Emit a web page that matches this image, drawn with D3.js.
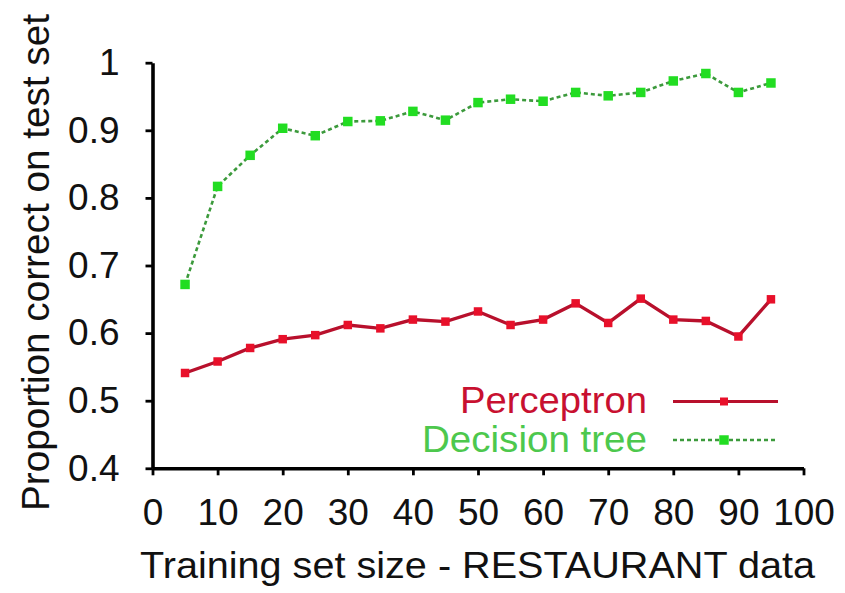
<!DOCTYPE html>
<html>
<head>
<meta charset="utf-8">
<script src="https://cdn.jsdelivr.net/npm/d3@7"></script>
<style>
  html, body { margin: 0; padding: 0; background: #fff; }
  svg { display: block; font-family: "Liberation Sans", Arial, sans-serif; }
</style>
</head>
<body>
<svg id="chart" width="845" height="593"></svg>
<script>
// ---- data ----
const trainingSizes = [5, 10, 15, 20, 25, 30, 35, 40, 45, 50, 55, 60, 65, 70, 75, 80, 85, 90, 95];
const perceptron = [0.541, 0.558, 0.578, 0.591, 0.597, 0.612, 0.607, 0.620, 0.617, 0.632,
                    0.612, 0.620, 0.644, 0.615, 0.651, 0.620, 0.618, 0.595, 0.650];
const decisionTree = [0.672, 0.817, 0.863, 0.903, 0.892, 0.913, 0.914, 0.928, 0.915, 0.941,
                      0.946, 0.943, 0.956, 0.951, 0.956, 0.973, 0.984, 0.956, 0.970];
const xTicks = [0, 10, 20, 30, 40, 50, 60, 70, 80, 90, 100];
const yTicks = [0.4, 0.5, 0.6, 0.7, 0.8, 0.9, 1];
const seriesNames = ["Perceptron", "Decision tree"];
const xTitle = "Training set size - RESTAURANT data";
const yTitle = "Proportion correct on test set";

// ---- layout ----
const svg = d3.select("#chart");
const plotLeft = 152.5, plotRight = 803.5, plotTop = 62.7, plotBottom = 468.3;

const x = d3.scaleLinear().domain([0, 100]).range([plotLeft, plotRight]);
const y = d3.scaleLinear().domain([0.4, 1]).range([plotBottom, plotTop]);

// axes
const yAxis = d3.axisLeft(y).tickValues(yTicks)
  .tickFormat(d => d === 1 ? "1" : d3.format(".1f")(d))
  .tickSize(7).tickSizeOuter(0).tickPadding(26);
const xAxis = d3.axisBottom(x).tickValues(xTicks).tickFormat(d3.format("d"))
  .tickSize(7).tickSizeOuter(0).tickPadding(23);

const gy = svg.append("g").attr("transform", `translate(${plotLeft},0)`).call(yAxis);
const gx = svg.append("g").attr("transform", `translate(0,${plotBottom})`).call(xAxis);
[gx, gy].forEach(g => {
  g.select(".domain").attr("stroke", "#000").attr("stroke-width", 3.6);
  g.selectAll(".tick line").attr("stroke", "#000").attr("stroke-width", 2.8);
  g.selectAll(".tick text").attr("fill", "#111").style("font-size", "37px")
    .style("font-family", "'Liberation Sans', Arial, sans-serif");
});

// titles
svg.append("text")
  .attr("x", 140).attr("y", 578)
  .attr("textLength", 675).attr("lengthAdjust", "spacingAndGlyphs")
  .style("font-size", "37px").attr("fill", "#111")
  .text(xTitle);

svg.append("text")
  .attr("transform", "translate(49,511) rotate(-90)")
  .attr("x", 0).attr("y", 0)
  .attr("textLength", 497).attr("lengthAdjust", "spacingAndGlyphs")
  .style("font-size", "38px").attr("fill", "#111")
  .text(yTitle);

// lines
const redLine = "#b8102c", redMark = "#e8102a";
const greenLine = "#3c9a3c", greenMark = "#22dd22";

const line = d3.line().x(d => x(d[0])).y(d => y(d[1]));
const pData = trainingSizes.map((s, i) => [s, perceptron[i]]);
const dData = trainingSizes.map((s, i) => [s, decisionTree[i]]);

svg.append("path").datum(dData).attr("d", line)
  .attr("fill", "none").attr("stroke", greenLine).attr("stroke-width", 2.6)
  .attr("stroke-dasharray", "4,3");
svg.append("g").selectAll("path").data(dData).join("path")
  .attr("transform", d => `translate(${x(d[0])},${y(d[1])})`)
  .attr("d", d3.symbol(d3.symbolSquare, 90))
  .attr("fill", greenMark);

svg.append("path").datum(pData).attr("d", line)
  .attr("fill", "none").attr("stroke", redLine).attr("stroke-width", 3.4);
svg.append("g").selectAll("path").data(pData).join("path")
  .attr("transform", d => `translate(${x(d[0])},${y(d[1])})`)
  .attr("d", d3.symbol(d3.symbolSquare, 72))
  .attr("fill", redMark);

// legend
const legend = [
  { name: seriesNames[0], color: "#c81030", lineColor: redLine, mark: redMark, dash: null, ty: 413, ly: 401.5, w: 187, size: 64, sw: 3 },
  { name: seriesNames[1], color: "#4dc84d", lineColor: greenLine, mark: greenMark, dash: "4,3", ty: 452, ly: 440, w: 225, size: 90, sw: 2.6 }
];
legend.forEach(l => {
  svg.append("text").attr("x", 647).attr("y", l.ty).attr("text-anchor", "end")
    .attr("textLength", l.w).attr("lengthAdjust", "spacingAndGlyphs")
    .style("font-size", "37px").attr("fill", l.color).text(l.name);
  svg.append("line").attr("x1", 673).attr("x2", 778).attr("y1", l.ly).attr("y2", l.ly)
    .attr("stroke", l.lineColor).attr("stroke-width", l.sw)
    .attr("stroke-dasharray", l.dash);
  svg.append("path").attr("transform", `translate(724,${l.ly})`)
    .attr("d", d3.symbol(d3.symbolSquare, l.size)).attr("fill", l.mark);
});
</script>
</body>
</html>
